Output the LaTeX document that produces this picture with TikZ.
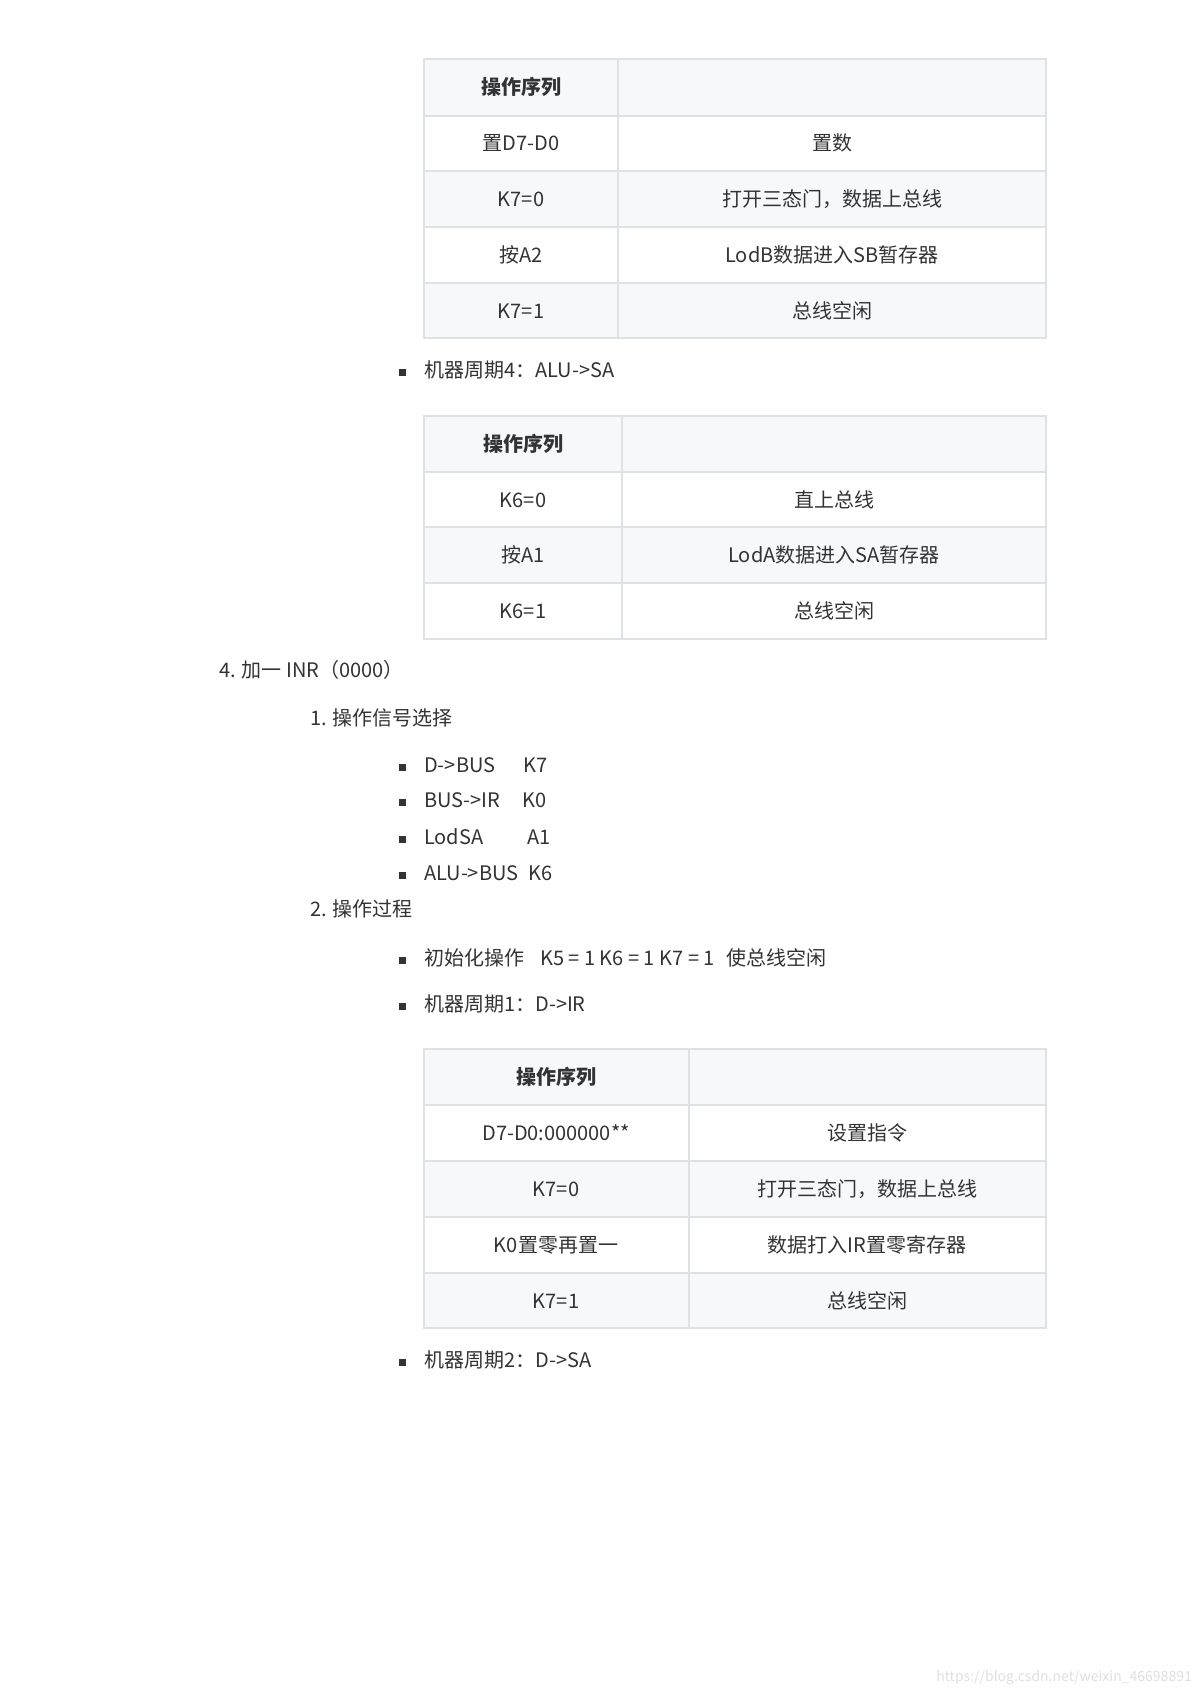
\documentclass[tikz,border=0pt]{standalone}
\usepackage{fontspec}
\setmainfont{Noto Sans CJK SC}
\definecolor{bd}{HTML}{DFE2E5}
\definecolor{sh}{HTML}{F6F8FA}
\definecolor{tx}{HTML}{333333}
\tikzset{x=1pt,y=-1pt,
 cell/.style={draw=bd,line width=1.2pt},
 shd/.style={cell,fill=sh},
 t/.style={font=\fontsize{20}{24}\selectfont,text=tx,inner sep=0},
 tb/.style={t,font=\fontsize{20}{24}\selectfont\bfseries},
 lt/.style={t,anchor=west},
 bul/.style={fill=tx,minimum size=7pt,inner sep=0}}
\newcommand{\trow}[7]{% x1 split x2 y1 y2 shaded? left right
}
\begin{document}
\begin{tikzpicture}
\useasboundingbox (0,0) rectangle (1199,1696);
\fill[white] (0,0) rectangle (1199,1696);
% Table 1
\foreach \ya/\yb/\s in {59/116/shd,116/171/cell,171/227/shd,227/283/cell,283/338/shd}{
 \draw[\s] (424,\ya) rectangle (618,\yb);
 \draw[\s] (618,\ya) rectangle (1046,\yb);}
\node[tb] (a0) at (521,87) {操作序列};
\node[t] (a1) at (521,143) {置D7-D0};
\node[t] (b1) at (832,143) {置数};
\node[t] (a2) at (521,199) {K7=0};
\node[t] (b2) at (832,199) {打开三态门，数据上总线};
\node[t] (a3) at (521,255) {按A2};
\node[t] (b3) at (832,255) {LodB数据进入SB暂存器};
\node[t] (a4) at (521,311) {K7=1};
\node[t] (b4) at (832,311) {总线空闲};
\node[bul] (p1) at (402,372) {};
\node[lt] (l1) at (424,370) {机器周期4：ALU->SA};
% Table 2
\foreach \ya/\yb/\s in {416/472/shd,472/527/cell,527/583/shd,583/639/cell}{
 \draw[\s] (424,\ya) rectangle (622,\yb);
 \draw[\s] (622,\ya) rectangle (1046,\yb);}
\node[tb] (c0) at (523,444) {操作序列};
\node[t] (c1) at (523,500) {K6=0};
\node[t] (d1) at (834,500) {直上总线};
\node[t] (c2) at (523,555) {按A1};
\node[t] (d2) at (834,555) {LodA数据进入SA暂存器};
\node[t] (c3) at (523,611) {K6=1};
\node[t] (d3) at (834,611) {总线空闲};
\node[lt] (h4) at (219,670) {4. 加一 INR（0000）};
\node[lt] (h41) at (310,718) {1. 操作信号选择};
\node[bul] at (402,767) {};\node[lt] at (424,765) {D->BUS\hspace{28pt}K7};
\node[bul] at (402,802) {};\node[lt] at (424,800) {BUS->IR\hspace{22pt}K0};
\node[bul] at (402,839) {};\node[lt] at (424,837) {LodSA\hspace{44pt}A1};
\node[bul] at (402,875) {};\node[lt] at (424,873) {ALU->BUS\hspace{10pt}K6};
\node[lt] (h42) at (310,909) {2. 操作过程};
\node[bul] at (402,960) {};\node[lt] at (424,958) {初始化操作\hspace{16pt}K5 = 1 K6 = 1 K7 = 1\hspace{12pt}使总线空闲};
\node[bul] at (402,1006) {};\node[lt] at (424,1004) {机器周期1：D->IR};
% Table 3
\foreach \ya/\yb/\s in {1049/1105/shd,1105/1161/cell,1161/1217/shd,1217/1273/cell,1273/1328/shd}{
 \draw[\s] (424,\ya) rectangle (689,\yb);
 \draw[\s] (689,\ya) rectangle (1046,\yb);}
\node[tb] (e0) at (556,1077) {操作序列};
\node[t] (e1) at (556,1133) {D7-D0:000000**};
\node[t] (f1) at (867,1133) {设置指令};
\node[t] (e2) at (556,1189) {K7=0};
\node[t] (f2) at (867,1189) {打开三态门，数据上总线};
\node[t] (e3) at (556,1245) {K0置零再置一};
\node[t] (f3) at (867,1245) {数据打入IR置零寄存器};
\node[t] (e4) at (556,1301) {K7=1};
\node[t] (f4) at (867,1301) {总线空闲};
\node[bul] at (402,1362) {};\node[lt] at (424,1360) {机器周期2：D->SA};
\node[t,anchor=east,text=black!12,font=\fontsize{14}{16}\selectfont] at (1192,1678) {https://blog.csdn.net/weixin\_46698891};
\end{tikzpicture}
\end{document}
